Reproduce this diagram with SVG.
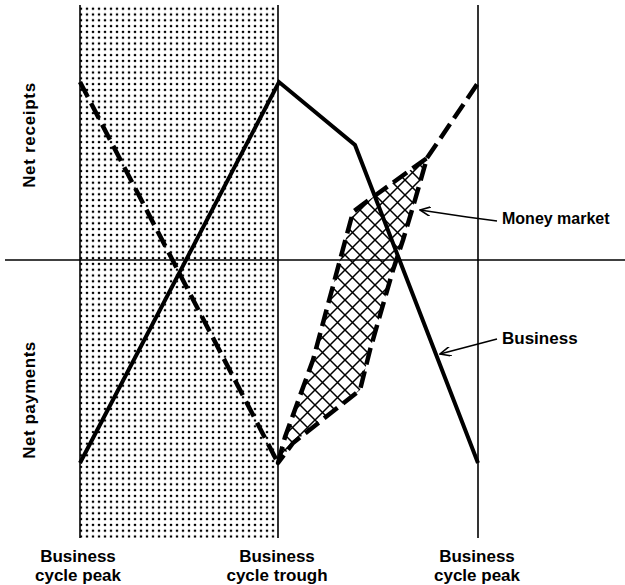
<svg xmlns="http://www.w3.org/2000/svg" width="625" height="585" viewBox="0 0 625 585">
<style>
.thin{stroke:#000;stroke-width:1.6;fill:none}
.solid{stroke:#000;stroke-width:4;fill:none;stroke-linejoin:miter}
.dash{stroke:#000;stroke-width:4.5;fill:none;stroke-dasharray:17 7;stroke-linejoin:round}
.lead{stroke:#000;stroke-width:1.6;fill:none}
text{font-family:"Liberation Sans",Arial,sans-serif;font-size:17px;font-weight:bold;fill:#000}
</style>
<defs>
<pattern id="dots" patternUnits="userSpaceOnUse" width="6" height="5.8">
<circle cx="3" cy="2.9" r="1.3" fill="#000"/>
</pattern>
<pattern id="hatch" patternUnits="userSpaceOnUse" width="15" height="15">
<path d="M0 0L15 15M15 0L0 15" stroke="#000" stroke-width="1.5"/>
</pattern>
<marker id="open" viewBox="0 0 12 10" refX="11" refY="5" markerWidth="12" markerHeight="10" markerUnits="userSpaceOnUse" orient="auto">
<path d="M0 0L11 5L0 10" fill="none" stroke="#000" stroke-width="1.6"/>
</marker>
</defs>
<rect width="625" height="585" fill="#fff"/>
<g id="shaded-band">
<rect x="80" y="5" width="198" height="533" fill="url(#dots)"/>
<line class="thin" x1="80" y1="5" x2="80" y2="538"/>
<line class="thin" x1="278" y1="5" x2="278" y2="538"/>
</g>
<g id="axes">
<line class="thin" x1="5" y1="260" x2="625" y2="260"/>
<line class="thin" x1="478" y1="5" x2="478" y2="538"/>
</g>
<g id="money-market-area">
<polygon points="278,463 285,437 313,360 340,260 353,212 362,205 427,158 415,200 403,240 393,270 370,350 360,390 293,443" fill="url(#hatch)"/>
<polygon class="dash" points="278,463 285,437 313,360 340,260 353,212 362,205 427,158 415,200 403,240 393,270 370,350 360,390 293,443"/>
</g>
<g id="connectors">
<path class="dash" d="M80 82L278 463"/>
<path class="dash" d="M427 158L480 80"/>
<path class="solid" d="M80 463L279 82L355 145L478 463"/>
<path class="lead" d="M497 221L467 217L420 210" marker-end="url(#open)"/>
<path class="lead" d="M497 339L440 354" marker-end="url(#open)"/>
</g>
<g id="labels">
<text transform="translate(35 135) rotate(-90)" text-anchor="middle" letter-spacing="0.7">Net receipts</text>
<text transform="translate(35 400) rotate(-90)" text-anchor="middle" letter-spacing="0.5">Net payments</text>
<text x="502" y="224" style="font-size:16px">Money market</text>
<text x="502" y="344">Business</text>
<text x="78" y="562" text-anchor="middle">Business</text>
<text x="78" y="581" text-anchor="middle">cycle peak</text>
<text x="277" y="562" text-anchor="middle">Business</text>
<text x="277" y="581" text-anchor="middle">cycle trough</text>
<text x="477" y="562" text-anchor="middle">Business</text>
<text x="477" y="581" text-anchor="middle">cycle peak</text>
</g>
</svg>
